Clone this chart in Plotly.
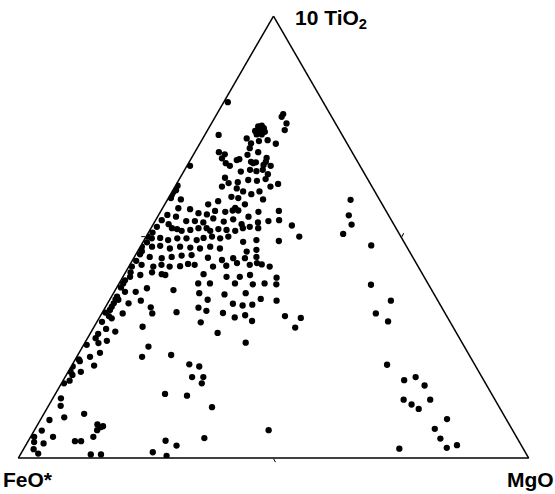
import plotly.graph_objects as go

# Ternary data (percent): TiO2 (x10), FeO*, MgO
# Upper cluster
tio2_a = [80.5, 77.2, 77.8, 75.7, 74.2, 75.0, 75.2, 74.6, 74.0, 74.0, 73.2, 73.2, 73.8, 73.1, 72.3, 71.2, 71.7, 71.9, 71.1, 70.1,
          69.2, 68.7, 67.8, 68.6, 69.2, 67.9, 66.7, 66.1, 67.4, 67.6, 67.0, 66.7, 66.9, 67.0, 66.3, 66.1, 64.8, 65.2, 64.9, 65.2,
          64.2, 63.4, 62.2, 61.4, 62.4, 62.9, 62.7, 63.1, 61.4, 62.0, 61.0, 60.3, 59.7, 60.3, 59.1, 66.1, 61.6, 60.6, 60.1, 59.5]
feo_a = [18.7, 9.8, 9.2, 9.6, 10.7, 15.5, 14.7, 14.6, 16.6, 15.6, 16.7, 15.7, 14.8, 24.2, 19.1, 18.8, 17.0, 15.2, 14.0, 19.6,
         26.1, 25.2, 26.2, 20.8, 18.4, 17.4, 26.0, 25.5, 23.5, 22.9, 20.9, 20.6, 20.0, 18.0, 18.8, 17.5, 24.0, 22.0, 20.9, 19.5,
         19.0, 27.8, 27.7, 29.4, 25.8, 23.5, 21.9, 20.0, 19.9, 18.1, 26.7, 25.8, 24.5, 22.6, 28.7, 33.3, 38.0, 38.8, 39.6, 40.2]
mgo_a = [0.8, 13.0, 13.0, 14.7, 15.1, 9.5, 10.1, 10.8, 9.4, 10.4, 10.1, 11.1, 11.4, 2.7, 8.6, 10.0, 11.3, 12.9, 14.9, 10.3,
         4.7, 6.1, 6.0, 10.6, 12.4, 14.7, 7.3, 8.4, 9.1, 9.5, 12.1, 12.7, 13.1, 15.0, 14.9, 16.4, 11.2, 12.8, 14.2, 15.3,
         16.8, 8.8, 10.1, 9.2, 11.8, 13.6, 15.4, 16.9, 18.7, 19.9, 12.3, 13.9, 15.8, 17.1, 12.2, 0.6, 0.4, 0.6, 0.3, 0.3]

# Middle dense band
tio2_b = [58.8, 58.5, 57.4, 58.1, 58.8, 57.4, 58.5, 56.6, 56.0, 56.0, 55.9, 56.5, 56.3, 55.4, 55.1, 55.9, 55.7, 54.6, 55.7, 55.0,
          54.6, 53.6, 53.6, 53.3, 54.2, 53.5, 54.0, 52.9, 52.3, 53.3, 53.6, 53.8, 52.6, 52.3, 52.9, 52.0, 51.8, 51.4, 51.6, 52.0,
          52.0, 51.4, 51.8, 51.6, 51.4, 52.0, 52.0, 50.1, 49.7, 49.8, 49.3, 49.7, 49.7, 49.3, 49.8, 50.1, 49.7, 50.1, 48.9, 49.3,
          49.1, 50.1, 47.8, 47.8, 48.0, 47.4, 47.8, 47.6, 47.4, 47.8, 47.4, 46.7, 47.1, 46.1, 45.5, 45.2, 45.5, 45.8, 45.9, 45.3,
          44.8, 45.2, 45.2, 45.5, 43.3, 43.7, 43.3, 43.7, 43.3, 43.4, 43.9, 43.7, 43.3, 43.5, 44.1, 43.7, 44.1, 43.8, 43.3, 41.0,
          41.4, 42.0, 41.6, 41.4, 41.6, 41.0, 41.0, 41.4, 40.8, 39.5, 39.5, 39.5, 39.5, 39.3, 39.5, 39.3,
          53.8, 51.0, 48.8, 46.8, 44.6, 42.0, 40.2, 38.6]
feo_b = [40.7, 38.9, 34.1, 31.8, 27.5, 26.9, 22.8, 29.2, 30.0, 28.9, 21.0, 40.4, 38.2, 37.0, 35.5, 33.5, 31.6, 27.6, 25.1, 43.3,
         41.8, 40.3, 38.6, 37.1, 34.7, 33.0, 30.9, 29.8, 28.5, 26.4, 24.2, 22.0, 20.1, 46.7, 44.1, 43.9, 43.0, 42.3, 40.5, 38.7,
         37.1, 36.7, 34.9, 33.4, 31.8, 30.0, 27.0, 49.6, 49.0, 47.3, 46.0, 44.0, 42.2, 40.4, 38.8, 37.0, 35.6, 33.8, 31.5, 28.7,
         24.4, 19.9, 51.9, 49.9, 48.2, 46.6, 44.4, 42.5, 40.7, 38.5, 36.8, 31.9, 29.8, 53.1, 51.5, 49.3, 47.2, 45.1, 43.1, 40.2,
         37.7, 35.3, 33.0, 30.6, 56.1, 54.0, 51.9, 50.1, 48.7, 46.6, 44.8, 43.6, 40.2, 37.5, 35.1, 32.8, 31.2, 30.4, 29.1, 57.6,
         55.4, 52.8, 51.1, 50.5, 42.9, 38.7, 36.1, 33.9, 29.0, 59.7, 45.0, 42.7, 37.8, 34.4, 32.0, 29.8,
         45.0, 48.2, 50.4, 52.4, 54.6, 57.0, 59.0, 60.6]
mgo_b = [0.5, 2.6, 8.5, 10.1, 13.7, 15.7, 18.7, 14.2, 14.0, 15.1, 23.1, 3.1, 5.5, 7.6, 9.4, 10.6, 12.7, 17.8, 19.2, 1.7,
         3.6, 6.1, 7.8, 9.6, 11.1, 13.5, 15.1, 17.3, 19.2, 20.3, 22.2, 24.2, 27.3, 1.0, 3.0, 4.1, 5.2, 6.3, 7.9, 9.3,
         10.9, 11.9, 13.3, 15.0, 16.8, 18.0, 21.0, 0.3, 1.3, 2.9, 4.7, 6.3, 8.1, 10.3, 11.4, 12.9, 14.7, 16.1, 19.6, 22.0,
         26.5, 30.0, 0.3, 2.3, 3.8, 6.0, 7.8, 9.9, 11.9, 13.7, 15.8, 21.4, 23.1, 0.8, 3.0, 5.5, 7.3, 9.1, 11.0, 14.5,
         17.5, 19.5, 21.8, 23.9, 0.6, 2.3, 4.8, 6.2, 8.0, 10.0, 11.3, 12.7, 16.5, 19.0, 20.8, 23.5, 24.7, 25.8, 27.6, 1.4,
         3.2, 5.2, 7.3, 8.1, 15.5, 20.3, 22.9, 24.7, 30.2, 0.8, 15.5, 17.8, 22.7, 26.3, 28.5, 30.9,
         1.2, 0.8, 0.8, 0.8, 0.8, 1.0, 0.8, 0.8]

# Lower-left and lower-middle part
tio2_c = [38.4, 38.0, 37.6, 37.6, 36.5, 35.9, 35.8, 35.0, 34.2, 33.5, 35.0, 35.6, 34.1, 32.7, 32.7, 32.9, 32.1, 31.6, 30.8, 29.2,
          28.6, 28.1, 29.7, 27.1, 26.5, 26.0, 25.6, 25.2, 23.8, 22.9, 22.9, 23.3, 22.3,
          37.3, 37.0, 37.3, 33.0, 34.0, 33.3, 35.8, 30.7, 32.8, 34.9, 34.5, 34.7, 36.0, 35.6, 31.8, 32.3, 31.0, 32.1, 31.7, 29.5,
          28.3, 26.1,
          20.7, 19.5, 18.8, 21.9, 19.5, 20.9, 16.9, 17.5, 13.5, 11.8, 10.0, 9.2, 8.6, 7.6, 7.0, 6.3, 7.2, 6.2, 4.8, 4.8,
          3.8, 3.8, 4.8, 3.6, 3.3, 2.0, 1.0, 0.8, 0.8, 14.5, 14.1, 21.2, 20.7, 18.3, 18.3, 16.9, 3.9, 2.8, 1.3, 0.5,
          4.5, 11.5, 6.3]
feo_c = [55.6, 50.6, 60.3, 58.2, 62.4, 63.0, 62.5, 63.8, 64.6, 65.3, 60.9, 58.2, 57.0, 57.4, 63.2, 66.5, 66.2, 65.9, 68.2, 68.2,
         66.7, 70.3, 60.8, 71.3, 69.4, 71.3, 73.8, 61.9, 72.1, 74.5, 64.3, 58.4, 77.0,
         45.9, 41.1, 36.8, 52.5, 47.7, 46.5, 45.0, 48.9, 43.5, 40.5, 38.8, 36.8, 34.5, 31.6, 41.7, 39.4, 38.7, 31.7, 28.8, 31.0,
         46.8, 42.4,
         79.0, 80.0, 80.0, 77.0, 78.0, 74.7, 82.6, 81.2, 84.9, 85.8, 82.1, 86.4, 89.6, 80.7, 80.3, 81.4, 79.8, 92.3, 94.5, 90.8,
         87.0, 85.8, 82.9, 95.1, 93.4, 96.0, 95.6, 85.4, 83.4, 64.0, 59.9, 55.9, 54.2, 56.8, 54.6, 55.6, 69.2, 67.6, 73.0, 70.7,
         61.3, 56.3, 47.8]
mgo_c = [6.0, 11.4, 2.1, 4.2, 1.1, 1.1, 1.7, 1.2, 1.2, 1.2, 4.1, 6.2, 8.9, 9.9, 4.1, 0.6, 1.7, 2.5, 1.0, 2.6,
         4.7, 1.6, 9.5, 1.6, 4.1, 2.7, 0.6, 12.9, 4.1, 2.6, 12.8, 18.3, 0.7,
         16.8, 21.9, 25.9, 14.5, 18.3, 20.2, 19.2, 20.4, 23.7, 24.6, 26.7, 28.5, 29.5, 32.8, 26.5, 28.3, 30.3, 36.2, 39.5, 39.5,
         24.9, 31.5,
         0.3, 0.5, 1.2, 1.1, 2.5, 4.4, 0.5, 1.3, 1.6, 2.4, 7.9, 4.4, 1.8, 11.7, 12.7, 12.3, 13.0, 1.5, 0.7, 4.4,
         9.2, 10.4, 12.3, 1.3, 3.3, 2.0, 3.4, 13.8, 15.8, 21.5, 26.0, 22.9, 25.1, 24.9, 27.1, 27.5, 26.9, 29.6, 25.7, 28.8,
         34.2, 32.2, 45.9]

# MgO-rich group on the right
tio2_d = [58.4, 54.9, 52.8, 50.7, 48.1, 39.2, 35.6, 32.7, 30.9, 21.1, 17.6, 18.3, 16.4, 13.2, 12.1, 11.1, 13.2, 8.8, 6.6, 4.4,
          2.3, 2.9, 2.1]
feo_d = [5.7, 7.8, 8.3, 11.0, 6.8, 11.3, 9.2, 13.6, 12.1, 17.2, 15.6, 13.0, 12.2, 17.9, 16.9, 16.0, 12.7, 11.6, 15.1, 15.1,
         14.9, 12.6, 24.3]
mgo_d = [35.9, 37.3, 38.9, 38.3, 45.1, 49.5, 55.2, 53.7, 57.0, 61.7, 66.8, 68.7, 71.4, 68.9, 71.0, 72.9, 74.1, 79.6, 78.3, 80.5,
         82.8, 84.5, 73.6]

tio2 = tio2_a + tio2_b + tio2_c + tio2_d
feo = feo_a + feo_b + feo_c + feo_d
mgo = mgo_a + mgo_b + mgo_c + mgo_d

vertex_labels = ["10 TiO<sub>2</sub>", "FeO*", "MgO"]
mid_tick = [50]

fig = go.Figure()
fig.add_trace(go.Scatterternary(
    a=tio2, b=feo, c=mgo,
    mode="markers",
    marker=dict(color="black", size=6.3, line=dict(width=0)),
    showlegend=False,
    hoverinfo="skip",
))

axis_common = dict(
    title=dict(text=""),
    showgrid=False,
    showticklabels=False,
    linecolor="black",
    linewidth=1.5,
    ticks="outside",
    ticklen=4,
    tickwidth=1,
    tickcolor="black",
    tickmode="array",
    tickvals=mid_tick,
)

W, H = 555, 494
ML, MR, MT, MB = 18, 26, 16, 36
PW, PH = W - ML - MR, H - MT - MB


def px(x):
    return (x - ML) / PW


def py(y):
    return (H - MB - y) / PH


fig.update_layout(
    width=W, height=H,
    margin=dict(l=ML, r=MR, t=MT, b=MB),
    paper_bgcolor="white",
    plot_bgcolor="white",
    ternary=dict(
        sum=100,
        bgcolor="white",
        aaxis=axis_common,
        baxis=axis_common,
        caxis=axis_common,
    ),
    font=dict(family="Liberation Sans, Arial, sans-serif", color="black"),
    annotations=[
        dict(text="<b>" + vertex_labels[0] + "</b>", x=px(293), y=py(19), xref="paper", yref="paper",
             xanchor="left", yanchor="middle", showarrow=False, font=dict(size=21)),
        dict(text="<b>" + vertex_labels[1] + "</b>", x=px(1), y=py(479), xref="paper", yref="paper",
             xanchor="left", yanchor="middle", showarrow=False, font=dict(size=21)),
        dict(text="<b>" + vertex_labels[2] + "</b>", x=px(556), y=py(479), xref="paper", yref="paper",
             xanchor="right", yanchor="middle", showarrow=False, font=dict(size=21)),
    ],
)

fig.write_html("out.html", config={"displayModeBar": False},
               post_script="document.body.style.margin='0';document.body.style.padding='0';")
